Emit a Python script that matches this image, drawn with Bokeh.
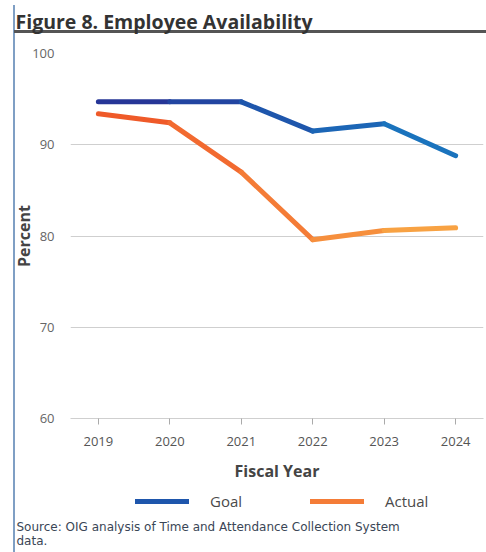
from bokeh.plotting import figure
from bokeh.models import (Range1d, FixedTicker, Legend, LegendItem, ColumnDataSource, Label)
from bokeh.layouts import column
from bokeh.embed import file_html
from bokeh.resources import INLINE

# ---- data ----
years = [2019, 2020, 2021, 2022, 2023, 2024]
goal = [94.7, 94.7, 94.7, 91.5, 92.3, 88.8]
actual = [93.4, 92.4, 87.0, 79.6, 80.6, 80.9]
y_ticks = [60, 70, 80, 90, 100]
title_text = "Figure 8. Employee Availability"
source_lines = ["Source: OIG analysis of Time and Attendance Collection System", "data."]

# ---- styles ----
goal_colors = ["#263697", "#2245a1", "#1e56ac", "#1c66b6", "#1a73bd"]
actual_colors = ["#ef5a29", "#f26a30", "#f47c37", "#f68f3d", "#f8a243"]
FONT = "Open Sans"
RULE = "linear-gradient(#7f9fc4, #7f9fc4)"

W = 486
TOP_H, MAIN_H, BOT_H = 45, 441, 66
FL, FR, FT, FB = 70, 483, 8, 373  # main-figure frame (canvas px within the main figure)


def no_align(f):
    if "frame_align" in f.properties():
        f.frame_align = False


def blank(h):
    f = figure(width=W, height=h, x_range=Range1d(0, W), y_range=Range1d(h, 0),
               x_axis_type=None, y_axis_type=None, toolbar_location=None, output_backend="svg",
               min_border=0)
    f.outline_line_color = None
    f.background_fill_alpha = 0
    f.border_fill_alpha = 0
    no_align(f)
    return f


# ---- title strip ----
top = blank(TOP_H)
top.styles = {
    "background-color": "white",
    "background-image": "linear-gradient(#555555, #555555), " + RULE,
    "background-size": "472px 3px, 2px 40px",
    "background-position": "14px 30px, 13px 5px",
    "background-repeat": "no-repeat",
}
top.add_layout(Label(x=15, y=21, text=title_text, text_font=FONT, text_font_size="19.5px",
                     text_font_style="bold", text_color="#333333", text_baseline="alphabetic"))

# ---- main chart ----
p = figure(width=W, height=MAIN_H, x_range=Range1d(2018.61, 2024.39), y_range=Range1d(60, 100),
           toolbar_location=None, output_backend="svg",
           min_border_left=FL, min_border_right=W - FR, min_border_top=FT,
           min_border_bottom=MAIN_H - FB)
no_align(p)
p.outline_line_color = None
p.background_fill_color = "white"
p.border_fill_alpha = 0
p.styles = {
    "background-color": "white",
    "background-image": RULE,
    "background-size": "2px 100%",
    "background-position": "13px 0px",
    "background-repeat": "no-repeat",
}

p.xgrid.grid_line_color = None
p.ygrid.ticker = FixedTicker(ticks=y_ticks)
p.ygrid.grid_line_color = "#cfcfcf"
p.ygrid.grid_line_width = 1

p.yaxis.ticker = FixedTicker(ticks=y_ticks)
p.yaxis.axis_line_color = None
p.yaxis.major_tick_line_color = None
p.yaxis.minor_tick_line_color = None
p.yaxis.major_label_standoff = 10
p.yaxis.major_label_text_font = FONT
p.yaxis.major_label_text_font_size = "13px"
p.yaxis.major_label_text_color = "#666666"
p.yaxis.axis_label = "Percent"
p.yaxis.axis_label_text_font = FONT
p.yaxis.axis_label_text_font_size = "16px"
p.yaxis.axis_label_text_font_style = "bold"
p.yaxis.axis_label_text_color = "#444444"
p.yaxis.axis_label_standoff = -6

p.xaxis.ticker = FixedTicker(ticks=years)
p.xaxis.axis_line_color = "#cfcfcf"
p.xaxis.major_tick_line_color = "#aaaaaa"
p.xaxis.major_tick_in = 0
p.xaxis.major_tick_out = 6
p.xaxis.minor_tick_line_color = None
p.xaxis.major_label_standoff = 12
p.xaxis.major_label_text_font = FONT
p.xaxis.major_label_text_font_size = "13px"
p.xaxis.major_label_text_color = "#555555"
p.xaxis.axis_label = "Fiscal Year"
p.xaxis.axis_label_text_font = FONT
p.xaxis.axis_label_text_font_size = "16px"
p.xaxis.axis_label_text_font_style = "bold"
p.xaxis.axis_label_text_color = "#444444"
p.xaxis.axis_label_standoff = 11

gsrc = ColumnDataSource(dict(x0=years[:-1], y0=goal[:-1], x1=years[1:], y1=goal[1:], c=goal_colors))
asrc = ColumnDataSource(dict(x0=years[:-1], y0=actual[:-1], x1=years[1:], y1=actual[1:], c=actual_colors))
p.segment("x0", "y0", "x1", "y1", source=asrc, line_color="c", line_width=5, line_cap="round")
p.segment("x0", "y0", "x1", "y1", source=gsrc, line_color="c", line_width=5, line_cap="round")

# ---- legend + source strip ----
bot = blank(BOT_H)
bot.styles = {
    "background-color": "white",
    "background-image": RULE,
    "background-size": "2px 100%",
    "background-position": "13px 0px",
    "background-repeat": "no-repeat",
}
# legend keys reuse the series sources (their data lie outside this strip's ranges)
lg = bot.segment("x0", "y0", "x1", "y1", source=gsrc, line_color="c", line_width=5, line_cap="round")
la = bot.segment("x0", "y0", "x1", "y1", source=asrc, line_color="c", line_width=5, line_cap="round")
legend = Legend(items=[LegendItem(label="Goal", renderers=[lg], index=2),
                       LegendItem(label="Actual", renderers=[la], index=2)],
                orientation="horizontal", location=(135, 41),
                glyph_width=54, glyph_height=20, label_standoff=21, spacing=68,
                padding=0, margin=0, border_line_color=None, background_fill_alpha=0,
                label_text_font=FONT, label_text_font_size="15px", label_text_color="#4a4a4a",
                label_text_font_style="normal")
bot.add_layout(legend, "center")
for i, line in enumerate(source_lines):
    bot.add_layout(Label(x=16, y=40 + 14 * i, text=line, text_font="DejaVu Sans",
                         text_font_size="12px", text_color="#3a4656",
                         text_baseline="alphabetic"))

layout = column(top, p, bot, spacing=0)
open("out.html", "w").write(file_html(layout, INLINE))
